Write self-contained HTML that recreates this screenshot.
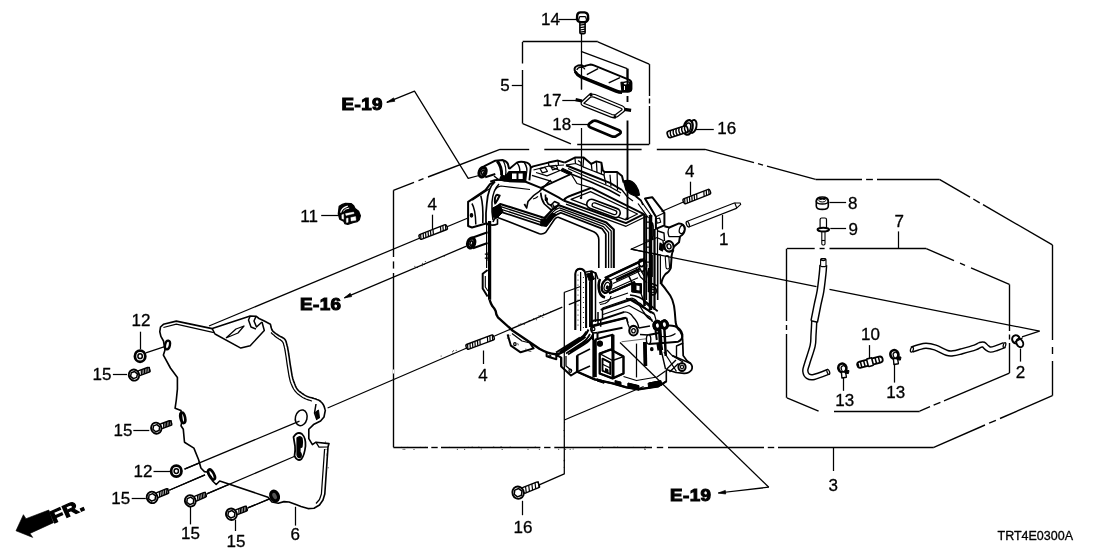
<!DOCTYPE html>
<html><head><meta charset="utf-8"><title>TRT4E0300A</title>
<style>
html,body{margin:0;padding:0;background:#fff;}
svg{display:block;will-change:transform;}
text{font-family:"Liberation Sans",Arial,sans-serif;fill:#000;stroke:#000;stroke-width:0.3px;}
.b{font-weight:bold;stroke:#000;stroke-width:1.1px;letter-spacing:0.45px;stroke-linejoin:miter;}
</style></head><body>
<svg width="1108" height="554" viewBox="0 0 1108 554" fill="none" stroke="#000" stroke-linecap="butt" stroke-linejoin="round">
<rect x="0" y="0" width="1108" height="554" fill="#fff" stroke="none"/>
<line x1="393.5" y1="447.3" x2="393.5" y2="273.0" stroke-width="1.38" />
<line x1="393.5" y1="268.6" x2="393.5" y2="261.4" stroke-width="1.38" />
<line x1="393.5" y1="257.0" x2="393.5" y2="190.3" stroke-width="1.38" />
<line x1="393.5" y1="369.5" x2="393.5" y2="373.5" stroke-width="1.38" stroke="#fff"/>
<line x1="393.4" y1="190.3" x2="414.0" y2="182.4" stroke-width="1.38" />
<line x1="418.5" y1="180.6" x2="423.5" y2="178.7" stroke-width="1.38" />
<line x1="428.0" y1="177.0" x2="500.0" y2="149.3" stroke-width="1.38" />
<line x1="500.0" y1="149.5" x2="529.2" y2="149.5" stroke-width="1.38" />
<line x1="544.3" y1="149.5" x2="641.6" y2="149.5" stroke-width="1.38" />
<line x1="656.8" y1="149.5" x2="705.0" y2="149.5" stroke-width="1.38" />
<line x1="705.0" y1="149.3" x2="754.0" y2="162.6" stroke-width="1.38" />
<line x1="758.0" y1="163.7" x2="763.0" y2="165.1" stroke-width="1.38" />
<line x1="767.0" y1="166.2" x2="815.6" y2="179.4" stroke-width="1.38" />
<line x1="815.6" y1="179.5" x2="862.0" y2="179.5" stroke-width="1.38" />
<line x1="866.1" y1="179.5" x2="872.9" y2="179.5" stroke-width="1.38" />
<line x1="877.0" y1="179.5" x2="939.4" y2="179.5" stroke-width="1.38" />
<line x1="939.4" y1="179.4" x2="970.0" y2="197.1" stroke-width="1.38" />
<line x1="973.3" y1="199.0" x2="979.7" y2="202.8" stroke-width="1.38" />
<line x1="983.0" y1="204.7" x2="1052.4" y2="244.9" stroke-width="1.38" />
<line x1="1052.5" y1="244.9" x2="1052.5" y2="340.0" stroke-width="1.38" />
<line x1="1052.5" y1="347.0" x2="1052.5" y2="354.0" stroke-width="1.38" />
<line x1="1052.5" y1="361.0" x2="1052.5" y2="395.7" stroke-width="1.38" />
<line x1="1052.4" y1="395.7" x2="1000.0" y2="418.5" stroke-width="1.38" />
<line x1="995.9" y1="420.3" x2="989.1" y2="423.2" stroke-width="1.38" />
<line x1="985.0" y1="425.0" x2="933.8" y2="447.3" stroke-width="1.38" />
<line x1="933.8" y1="447.5" x2="778.0" y2="447.5" stroke-width="1.38" />
<line x1="774.2" y1="447.5" x2="767.8" y2="447.5" stroke-width="1.38" />
<line x1="764.0" y1="447.5" x2="668.0" y2="447.5" stroke-width="1.38" />
<line x1="663.2" y1="447.5" x2="656.8" y2="447.5" stroke-width="1.38" />
<line x1="652.0" y1="447.5" x2="554.3" y2="447.5" stroke-width="1.38" />
<line x1="550.5" y1="447.5" x2="544.1" y2="447.5" stroke-width="1.38" />
<line x1="540.4" y1="447.5" x2="441.0" y2="447.5" stroke-width="1.38" />
<line x1="437.7" y1="447.5" x2="431.3" y2="447.5" stroke-width="1.38" />
<line x1="428.0" y1="447.5" x2="393.4" y2="447.5" stroke-width="1.38" />
<line x1="570.9" y1="143.9" x2="522.7" y2="123.6" stroke-width="1.38" />
<line x1="522.5" y1="123.6" x2="522.5" y2="70.0" stroke-width="1.38" />
<line x1="522.5" y1="63.5" x2="522.5" y2="41.9" stroke-width="1.38" />
<line x1="522.7" y1="41.5" x2="597.8" y2="41.5" stroke-width="1.38" />
<line x1="597.8" y1="41.9" x2="649.2" y2="64.1" stroke-width="1.38" />
<line x1="649.5" y1="64.1" x2="649.5" y2="96.0" stroke-width="1.38" />
<line x1="649.5" y1="98.5" x2="649.5" y2="103.5" stroke-width="1.38" />
<line x1="649.5" y1="106.0" x2="649.5" y2="144.3" stroke-width="1.38" />
<line x1="649.2" y1="144.5" x2="577.2" y2="144.5" stroke-width="1.38" />
<line x1="786.9" y1="248.5" x2="814.7" y2="248.5" stroke-width="1.38" />
<line x1="819.6" y1="248.5" x2="824.6" y2="248.5" stroke-width="1.38" />
<line x1="829.5" y1="248.5" x2="926.3" y2="248.5" stroke-width="1.38" />
<line x1="926.3" y1="248.7" x2="954.0" y2="260.6" stroke-width="1.38" />
<line x1="960.0" y1="263.2" x2="965.0" y2="265.3" stroke-width="1.38" />
<line x1="971.0" y1="267.9" x2="1009.4" y2="284.4" stroke-width="1.38" />
<line x1="1009.5" y1="284.4" x2="1009.5" y2="331.0" stroke-width="1.38" />
<line x1="1009.5" y1="334.5" x2="1009.5" y2="339.5" stroke-width="1.38" />
<line x1="1009.5" y1="343.0" x2="1009.5" y2="373.1" stroke-width="1.38" />
<line x1="1009.4" y1="373.1" x2="944.0" y2="400.8" stroke-width="1.38" />
<line x1="940.4" y1="402.3" x2="933.6" y2="405.2" stroke-width="1.38" />
<line x1="930.0" y1="406.7" x2="919.7" y2="411.1" stroke-width="1.38" />
<line x1="919.7" y1="411.5" x2="834.0" y2="411.5" stroke-width="1.38" />
<line x1="818.6" y1="411.1" x2="786.9" y2="397.8" stroke-width="1.38" />
<line x1="786.5" y1="397.8" x2="786.5" y2="334.0" stroke-width="1.38" />
<line x1="786.5" y1="330.0" x2="786.5" y2="325.0" stroke-width="1.38" />
<line x1="786.5" y1="321.0" x2="786.5" y2="248.7" stroke-width="1.38" />
<polyline points="386.8,102.3 414.5,91.1 468.2,178.3 479,175.5" stroke-width="1.25" fill="none" />
<path d="M386.8,102.3 l6.8,-4.4 l1.2,3.4 z" stroke-width="0.75" fill="#000" />
<line x1="209" y1="326" x2="470.4" y2="217" stroke-width="1.25" />
<line x1="344.4" y1="297.8" x2="466.5" y2="246.2" stroke-width="1.25" />
<path d="M344.4,297.8 l5.8,-4.6 l1.4,3.4 z" stroke-width="0.75" fill="#000" />
<line x1="327.6" y1="408" x2="494.6" y2="336" stroke-width="1.25" />
<line x1="184.5" y1="469.2" x2="299.5" y2="421.1" stroke-width="1.25" />
<line x1="169.2" y1="490.3" x2="205" y2="474.9" stroke-width="1.25" />
<line x1="206.8" y1="493.9" x2="294.8" y2="456.3" stroke-width="1.25" />
<line x1="247.8" y1="507.9" x2="270.1" y2="498.6" stroke-width="1.25" />
<line x1="145.8" y1="352.8" x2="166.9" y2="345.8" stroke-width="1.25" />
<polyline points="1039.6,331.1 1022,336.9" stroke-width="1.25" fill="none" />
<line x1="661.5" y1="211.5" x2="683.4" y2="202" stroke-width="1.25" />
<polyline points="718.3,493 768.8,487.2" stroke-width="1.25" fill="none" />
<path d="M718.3,493 l7,-2.6 l0.4,3.6 z" stroke-width="0.75" fill="#000" />
<line x1="581.5" y1="33" x2="581.5" y2="89.5" stroke-width="1.25" />
<polyline points="581,51.4 627.2,68.7" stroke-width="1.25" fill="none" />
<line x1="627.5" y1="68.7" x2="627.5" y2="92" stroke-width="1.88" />
<text x="541" y="25.4" font-size="17" text-anchor="start" >14</text>
<line x1="558.5" y1="19.5" x2="576.7" y2="19.5" stroke-width="1.25" />
<text x="500.3" y="91" font-size="17" text-anchor="start" >5</text>
<line x1="511.8" y1="85.5" x2="522.7" y2="85.5" stroke-width="1.25" />
<text x="542.5" y="106" font-size="17" text-anchor="start" >17</text>
<line x1="562.3" y1="100.5" x2="578" y2="100.5" stroke-width="1.25" />
<text x="552.2" y="130" font-size="17" text-anchor="start" >18</text>
<line x1="571.8" y1="124.5" x2="588.3" y2="124.5" stroke-width="1.25" />
<text x="717.3" y="134.4" font-size="17" text-anchor="start" >16</text>
<line x1="695" y1="129.5" x2="713.8" y2="129.5" stroke-width="1.25" />
<text x="685" y="176.8" font-size="17" text-anchor="start" >4</text>
<line x1="690.5" y1="181.7" x2="690.5" y2="195.6" stroke-width="1.25" />
<text x="427.5" y="210.4" font-size="17" text-anchor="start" >4</text>
<line x1="432.5" y1="214.7" x2="432.5" y2="229.3" stroke-width="1.25" />
<text x="478.2" y="380.8" font-size="17" text-anchor="start" >4</text>
<line x1="483.5" y1="350.5" x2="483.5" y2="364" stroke-width="1.25" />
<text x="719" y="245.3" font-size="17" text-anchor="start" >1</text>
<line x1="722.5" y1="215" x2="722.5" y2="229.4" stroke-width="1.25" />
<text x="300.2" y="221.8" font-size="17" text-anchor="start" >11</text>
<line x1="321.2" y1="215.5" x2="338.5" y2="215.5" stroke-width="1.25" />
<text x="848" y="208.6" font-size="17" text-anchor="start" >8</text>
<line x1="829.4" y1="202.5" x2="846.1" y2="202.5" stroke-width="1.25" />
<text x="848.4" y="234.6" font-size="17" text-anchor="start" >9</text>
<line x1="830.3" y1="228.5" x2="846.1" y2="228.5" stroke-width="1.25" />
<text x="894.5" y="226.6" font-size="17" text-anchor="start" >7</text>
<line x1="898.5" y1="231.4" x2="898.5" y2="248.9" stroke-width="1.25" />
<text x="861" y="340.4" font-size="17" text-anchor="start" >10</text>
<line x1="869.5" y1="345.1" x2="869.5" y2="365" stroke-width="1.25" />
<text x="835.3" y="406.1" font-size="17" text-anchor="start" >13</text>
<line x1="843.5" y1="376.8" x2="843.5" y2="390.8" stroke-width="1.25" />
<text x="886.3" y="398.3" font-size="17" text-anchor="start" >13</text>
<line x1="894.5" y1="362.7" x2="894.5" y2="382.6" stroke-width="1.25" />
<text x="1015.8" y="378" font-size="17" text-anchor="start" >2</text>
<line x1="1020.5" y1="348.7" x2="1020.5" y2="361.6" stroke-width="1.25" />
<text x="828.5" y="490.5" font-size="17" text-anchor="start" >3</text>
<line x1="833.5" y1="447.3" x2="833.5" y2="471" stroke-width="1.25" />
<text x="513.6" y="532.5" font-size="17" text-anchor="start" >16</text>
<line x1="522.5" y1="500.8" x2="522.5" y2="515.2" stroke-width="1.25" />
<text x="131.6" y="326.3" font-size="17" text-anchor="start" >12</text>
<line x1="140.5" y1="331.7" x2="140.5" y2="349.3" stroke-width="1.25" />
<text x="92.5" y="379.8" font-size="17" text-anchor="start" >15</text>
<line x1="112.9" y1="374.5" x2="127" y2="374.5" stroke-width="1.25" />
<text x="113.6" y="435.7" font-size="17" text-anchor="start" >15</text>
<line x1="133.3" y1="430.5" x2="149.3" y2="430.5" stroke-width="1.25" />
<text x="133.5" y="477" font-size="17" text-anchor="start" >12</text>
<line x1="153.5" y1="471.5" x2="170" y2="471.5" stroke-width="1.25" />
<text x="111.2" y="504.4" font-size="17" text-anchor="start" >15</text>
<line x1="131.7" y1="498.5" x2="145.8" y2="498.5" stroke-width="1.25" />
<text x="181" y="538.8" font-size="17" text-anchor="start" >15</text>
<line x1="190.5" y1="506.8" x2="190.5" y2="524.4" stroke-width="1.25" />
<text x="226.5" y="546.5" font-size="17" text-anchor="start" >15</text>
<line x1="235.5" y1="519.7" x2="235.5" y2="531" stroke-width="1.25" />
<text x="290.5" y="540" font-size="17" text-anchor="start" >6</text>
<line x1="295.5" y1="506.8" x2="295.5" y2="525.6" stroke-width="1.25" />
<text font-size="17.2" class="b" transform="translate(341.5 110.2) scale(1.09,0.98)">E-19</text>
<text font-size="17.2" class="b" transform="translate(300 309.5) scale(1.09,0.98)">E-16</text>
<text font-size="17.2" class="b" transform="translate(670 500.9) scale(1.09,0.98)">E-19</text>
<text x="997.5" y="539.8" font-size="12.5" text-anchor="start" >TRT4E0300A</text>
<path d="M16,530.8 L23.4,514.7 L26,518.7 L48.8,510 L53.4,522.7 L30,533.4 L32.7,537.4 Z" stroke-width="0.62" fill="#000" />
<text x="0" y="0" font-size="17" class="b" transform="translate(53.6,523.4) rotate(-23.6) scale(1.23,1.03)" style="stroke-width:1.2px">FR.</text>
<rect x="579.9" y="21" width="5.2" height="12.6" rx="1.2" fill="#fff" stroke-width="1.6"/>
<path d="M579.9,25.2 L585.1,24.4" stroke-width="1.2"/>
<path d="M579.9,27.6 L585.1,26.8" stroke-width="1.2"/>
<path d="M579.9,30.0 L585.1,29.2" stroke-width="1.2"/>
<path d="M579.9,32.2 L585.1,31.400000000000002" stroke-width="1.2"/>
<path d="M577.2,15.2 Q577.6,12.6 580.5,12.4 L584.6,12.4 Q587.6,12.8 588,15.4 L588.2,19 Q587.6,21.8 584.5,22.2 L580.5,22.2 Q577.4,21.6 577,18.8 Z" stroke-width="2.38" fill="#fff" />
<path d="M579.6,16.6 L585.6,16.6 M579.6,16.6 L578.6,20 M585.6,16.6 L586.6,20" stroke-width="1.25" fill="none" />
<ellipse cx="693.0" cy="126.4" rx="3.4" ry="6.6" stroke-width="2.0" fill="#fff" transform="rotate(12 693.0 126.4)"/>
<ellipse cx="688.2" cy="127.4" rx="4.4" ry="7.4" stroke-width="2.25" fill="#fff" transform="rotate(12 688.2 127.4)"/>
<ellipse cx="688.0" cy="127.6" rx="2.6" ry="4.6" stroke-width="1.5" fill="none" transform="rotate(12 688.0 127.6)"/>
<g transform="translate(667.6 135.0) rotate(-18)">
<rect x="0" y="-3.4" width="21" height="6.8" rx="2.4" fill="#fff" stroke-width="1.7"/>
<path d="M4.2,-3.4 Q2.0,0 3.4,3.4" stroke-width="1.3"/>
<path d="M7.2,-3.4 Q5.0,0 6.4,3.4" stroke-width="1.3"/>
<path d="M10.2,-3.4 Q8.0,0 9.4,3.4" stroke-width="1.3"/>
<path d="M13.2,-3.4 Q11.0,0 12.4,3.4" stroke-width="1.3"/>
<path d="M16.2,-3.4 Q14.0,0 15.4,3.4" stroke-width="1.3"/>
<path d="M19.2,-3.4 Q17.0,0 18.4,3.4" stroke-width="1.3"/>
</g>
<g transform="translate(518.1 492.7) rotate(-21.7)">
<rect x="5.2" y="-3.0" width="17.2" height="6" rx="1.4" fill="#fff" stroke-width="1.4"/>
<line x1="9.2" y1="-3.0" x2="7.6" y2="3.0" stroke-width="1.2"/>
<line x1="12.6" y1="-3.0" x2="11.0" y2="3.0" stroke-width="1.2"/>
<line x1="16.0" y1="-3.0" x2="14.4" y2="3.0" stroke-width="1.2"/>
<line x1="19.4" y1="-3.0" x2="17.8" y2="3.0" stroke-width="1.2"/>
<line x1="22.9" y1="-3.0" x2="21.3" y2="3.0" stroke-width="1.2"/>
<ellipse cx="0" cy="0" rx="5.70" ry="6.2" fill="#fff" stroke-width="1.9"/>
<polygon points="4.20,0.00 2.10,3.64 -2.10,3.64 -4.20,0.00 -2.10,-3.64 2.10,-3.64" fill="none" stroke-width="1.5"/>
</g>
<g transform="translate(134 375.1) rotate(-20.0)">
<rect x="4.6" y="-2.5" width="12.1" height="5.0" rx="1.4" fill="#fff" stroke-width="1.4"/>
<line x1="8.6" y1="-2.5" x2="7.0" y2="2.5" stroke-width="1.2"/>
<line x1="10.3" y1="-2.5" x2="8.7" y2="2.5" stroke-width="1.2"/>
<line x1="12.0" y1="-2.5" x2="10.4" y2="2.5" stroke-width="1.2"/>
<line x1="13.7" y1="-2.5" x2="12.1" y2="2.5" stroke-width="1.2"/>
<line x1="15.5" y1="-2.5" x2="13.9" y2="2.5" stroke-width="1.2"/>
<line x1="17.2" y1="-2.5" x2="15.6" y2="2.5" stroke-width="1.2"/>
<ellipse cx="0" cy="0" rx="5.15" ry="5.6" fill="#fff" stroke-width="1.9"/>
<polygon points="3.60,0.00 1.80,3.12 -1.80,3.12 -3.60,0.00 -1.80,-3.12 1.80,-3.12" fill="none" stroke-width="1.5"/>
</g>
<g transform="translate(156.3 428.2) rotate(-20.3)">
<rect x="4.6" y="-2.5" width="11.5" height="5.0" rx="1.4" fill="#fff" stroke-width="1.4"/>
<line x1="8.6" y1="-2.5" x2="7.0" y2="2.5" stroke-width="1.2"/>
<line x1="10.2" y1="-2.5" x2="8.6" y2="2.5" stroke-width="1.2"/>
<line x1="11.8" y1="-2.5" x2="10.2" y2="2.5" stroke-width="1.2"/>
<line x1="13.4" y1="-2.5" x2="11.8" y2="2.5" stroke-width="1.2"/>
<line x1="15.0" y1="-2.5" x2="13.4" y2="2.5" stroke-width="1.2"/>
<line x1="16.6" y1="-2.5" x2="15.0" y2="2.5" stroke-width="1.2"/>
<ellipse cx="0" cy="0" rx="5.15" ry="5.6" fill="#fff" stroke-width="1.9"/>
<polygon points="3.60,0.00 1.80,3.12 -1.80,3.12 -3.60,0.00 -1.80,-3.12 1.80,-3.12" fill="none" stroke-width="1.5"/>
</g>
<g transform="translate(152.1 497.4) rotate(-22.6)">
<rect x="4.8" y="-2.5" width="12.7" height="5.0" rx="1.4" fill="#fff" stroke-width="1.4"/>
<line x1="8.8" y1="-2.5" x2="7.2" y2="2.5" stroke-width="1.2"/>
<line x1="10.6" y1="-2.5" x2="9.0" y2="2.5" stroke-width="1.2"/>
<line x1="12.5" y1="-2.5" x2="10.9" y2="2.5" stroke-width="1.2"/>
<line x1="14.3" y1="-2.5" x2="12.7" y2="2.5" stroke-width="1.2"/>
<line x1="16.2" y1="-2.5" x2="14.6" y2="2.5" stroke-width="1.2"/>
<line x1="18.0" y1="-2.5" x2="16.4" y2="2.5" stroke-width="1.2"/>
<ellipse cx="0" cy="0" rx="5.34" ry="5.8" fill="#fff" stroke-width="1.9"/>
<polygon points="3.80,0.00 1.90,3.29 -1.90,3.29 -3.80,0.00 -1.90,-3.29 1.90,-3.29" fill="none" stroke-width="1.5"/>
</g>
<g transform="translate(190.3 500.9) rotate(-23.0)">
<rect x="4.8" y="-2.5" width="12.1" height="5.0" rx="1.4" fill="#fff" stroke-width="1.4"/>
<line x1="8.8" y1="-2.5" x2="7.2" y2="2.5" stroke-width="1.2"/>
<line x1="10.5" y1="-2.5" x2="8.9" y2="2.5" stroke-width="1.2"/>
<line x1="12.3" y1="-2.5" x2="10.7" y2="2.5" stroke-width="1.2"/>
<line x1="14.0" y1="-2.5" x2="12.4" y2="2.5" stroke-width="1.2"/>
<line x1="15.7" y1="-2.5" x2="14.1" y2="2.5" stroke-width="1.2"/>
<line x1="17.4" y1="-2.5" x2="15.8" y2="2.5" stroke-width="1.2"/>
<ellipse cx="0" cy="0" rx="5.34" ry="5.8" fill="#fff" stroke-width="1.9"/>
<polygon points="3.80,0.00 1.90,3.29 -1.90,3.29 -3.80,0.00 -1.90,-3.29 1.90,-3.29" fill="none" stroke-width="1.5"/>
</g>
<g transform="translate(231.4 514.3) rotate(-21.4)">
<rect x="4.8" y="-2.5" width="11.8" height="5.0" rx="1.4" fill="#fff" stroke-width="1.4"/>
<line x1="8.8" y1="-2.5" x2="7.2" y2="2.5" stroke-width="1.2"/>
<line x1="10.5" y1="-2.5" x2="8.9" y2="2.5" stroke-width="1.2"/>
<line x1="12.1" y1="-2.5" x2="10.5" y2="2.5" stroke-width="1.2"/>
<line x1="13.8" y1="-2.5" x2="12.2" y2="2.5" stroke-width="1.2"/>
<line x1="15.5" y1="-2.5" x2="13.9" y2="2.5" stroke-width="1.2"/>
<line x1="17.1" y1="-2.5" x2="15.5" y2="2.5" stroke-width="1.2"/>
<ellipse cx="0" cy="0" rx="5.34" ry="5.8" fill="#fff" stroke-width="1.9"/>
<polygon points="3.80,0.00 1.90,3.29 -1.90,3.29 -3.80,0.00 -1.90,-3.29 1.90,-3.29" fill="none" stroke-width="1.5"/>
</g>
<ellipse cx="140.1" cy="356.2" rx="5.2" ry="5.6" stroke-width="2.75" fill="#fff" transform="rotate(0 140.1 356.2)"/>
<ellipse cx="140.1" cy="356.2" rx="2.2" ry="2.4" stroke-width="1.5" fill="none" transform="rotate(0 140.1 356.2)"/>
<ellipse cx="176.3" cy="471.1" rx="5.2" ry="5.6" stroke-width="2.75" fill="#fff" transform="rotate(0 176.3 471.1)"/>
<ellipse cx="176.3" cy="471.1" rx="2.2" ry="2.4" stroke-width="1.5" fill="none" transform="rotate(0 176.3 471.1)"/>
<g transform="translate(419.4 237.4) rotate(-21.2)">
<rect x="0" y="-2.6" width="29.6" height="5.2" rx="1.8" fill="#fff" stroke-width="1.4"/>
<line x1="2.3" y1="-2.6" x2="0.7" y2="2.6" stroke-width="1.2"/>
<line x1="5.0" y1="-2.6" x2="3.4" y2="2.6" stroke-width="1.2"/>
<line x1="7.6" y1="-2.6" x2="6.0" y2="2.6" stroke-width="1.2"/>
<line x1="10.3" y1="-2.6" x2="8.7" y2="2.6" stroke-width="1.2"/>
<line x1="12.9" y1="-2.6" x2="11.3" y2="2.6" stroke-width="1.2"/>
<line x1="15.6" y1="-2.6" x2="14.0" y2="2.6" stroke-width="1.2"/>
<line x1="23.6" y1="-2.6" x2="22.0" y2="2.6" stroke-width="1.2"/>
<line x1="26.2" y1="-2.6" x2="24.6" y2="2.6" stroke-width="1.2"/>
<line x1="28.9" y1="-2.6" x2="27.3" y2="2.6" stroke-width="1.2"/>
</g>
<g transform="translate(683.4 201.8) rotate(-21.4)">
<rect x="0" y="-2.6" width="28.8" height="5.2" rx="1.8" fill="#fff" stroke-width="1.4"/>
<line x1="2.3" y1="-2.6" x2="0.7" y2="2.6" stroke-width="1.2"/>
<line x1="4.9" y1="-2.6" x2="3.3" y2="2.6" stroke-width="1.2"/>
<line x1="7.5" y1="-2.6" x2="5.9" y2="2.6" stroke-width="1.2"/>
<line x1="10.0" y1="-2.6" x2="8.4" y2="2.6" stroke-width="1.2"/>
<line x1="12.6" y1="-2.6" x2="11.0" y2="2.6" stroke-width="1.2"/>
<line x1="15.2" y1="-2.6" x2="13.6" y2="2.6" stroke-width="1.2"/>
<line x1="22.9" y1="-2.6" x2="21.3" y2="2.6" stroke-width="1.2"/>
<line x1="25.5" y1="-2.6" x2="23.9" y2="2.6" stroke-width="1.2"/>
<line x1="28.1" y1="-2.6" x2="26.5" y2="2.6" stroke-width="1.2"/>
</g>
<g transform="translate(466.3 347.3) rotate(-20.5)">
<rect x="0" y="-2.6" width="29.5" height="5.2" rx="1.8" fill="#fff" stroke-width="1.4"/>
<line x1="2.3" y1="-2.6" x2="0.7" y2="2.6" stroke-width="1.2"/>
<line x1="4.9" y1="-2.6" x2="3.3" y2="2.6" stroke-width="1.2"/>
<line x1="7.6" y1="-2.6" x2="6.0" y2="2.6" stroke-width="1.2"/>
<line x1="10.2" y1="-2.6" x2="8.6" y2="2.6" stroke-width="1.2"/>
<line x1="12.9" y1="-2.6" x2="11.3" y2="2.6" stroke-width="1.2"/>
<line x1="15.5" y1="-2.6" x2="13.9" y2="2.6" stroke-width="1.2"/>
<line x1="23.5" y1="-2.6" x2="21.9" y2="2.6" stroke-width="1.2"/>
<line x1="26.1" y1="-2.6" x2="24.5" y2="2.6" stroke-width="1.2"/>
<line x1="28.8" y1="-2.6" x2="27.2" y2="2.6" stroke-width="1.2"/>
</g>
<polygon points="159.8,331.7 160.5,327 163.4,324.3 176.3,321.1 212.2,328.6 250.2,316 256,316.2 259,318.5 264.3,321.1 270.4,324.2 270.6,324.9 270.8,325.9 271.0,327.1 271.4,328.3 271.8,329.5 272.4,330.5 273.1,331.4 274.0,332.1 274.9,332.9 275.9,333.6 277.0,334.3 278.0,335.0 279.1,335.7 280.3,336.4 281.6,337.0 282.8,337.7 283.9,338.4 284.8,339.3 285.5,340.3 286.0,341.3 286.3,342.5 286.6,343.6 286.9,344.8 287.2,346.0 287.5,347.0 287.7,347.9 287.8,348.8 288.0,349.9 288.3,351.4 288.6,353.5 289.1,356.5 289.6,360.2 290.2,364.3 290.9,368.4 291.5,372.2 292.0,375.2 292.5,377.4 292.9,379.0 293.3,380.3 293.7,381.4 294.1,382.4 294.5,383.5 295.0,384.7 295.4,385.8 295.9,386.8 296.4,387.8 296.9,388.7 297.6,389.6 298.4,390.5 299.2,391.3 300.2,392.0 301.1,392.7 302.1,393.4 303.0,394.0 303.9,394.6 304.7,395.1 305.6,395.6 306.4,396.0 307.3,396.4 308.3,396.8 309.4,397.2 310.5,397.5 311.7,397.8 312.8,398.1 314.0,398.5 315.0,398.8 315.9,399.1 316.8,399.5 317.7,399.8 318.5,400.1 319.3,400.5 320.0,401.0 320.7,401.5 321.3,402.2 321.9,402.8 322.5,403.5 323.0,404.2 323.5,405.0 323.9,405.9 324.3,406.9 324.6,407.9 324.9,408.9 325.1,409.7 325.3,410.3 324,417 320.6,421.1 313.5,424.6 308.8,429.3 308.8,438.7 312.4,444.6 315.9,442.2 329,443.6 328,447 324.8,494 323,500 319.5,505 314,508.2 308,508.6 301,506.4 295.9,504.4 289,502 284,501.6 278.3,503.2 272,502 268,497.2 222,481.7 219.7,481 216.2,484.5 212.6,481 211,476.5 207,472 204.4,471.6 200.9,468 198.6,459.8 193.9,448.1 184.5,442.2 183.3,429.3 181,425.8 182,421 181,410.6 175.1,408.2 176.3,400 177.4,389.2 177.4,377.4 170.4,368 163.4,355.1 165,350 163.5,341 160.9,336.4" stroke-width="1.62" fill="#fff" />
<line x1="184.5" y1="469.2" x2="299.5" y2="421.1" stroke-width="1.25" />
<line x1="206.8" y1="493.9" x2="294.8" y2="456.3" stroke-width="1.25" />
<line x1="247.8" y1="507.9" x2="270.1" y2="498.6" stroke-width="1.25" />
<line x1="169.2" y1="490.3" x2="205" y2="474.9" stroke-width="1.25" />
<polyline points="163.4,327.5 176.3,324.2 214,332.6" stroke-width="1.25" fill="none" />
<polyline points="212.2,328.6 215,334 240.8,348.1 250.2,345.8 264.3,330.5 262,322" stroke-width="1.5" fill="none" />
<polyline points="226,338 236,329 244,326 238,333 226,338" stroke-width="1.25" fill="none" />
<polyline points="250.2,316 248.5,320 251,327 256,329" stroke-width="1.5" fill="none" />
<polyline points="256,316.2 254,321 256.5,327 262,322" stroke-width="1.5" fill="none" />
<polyline points="271.0,332.5 271.5,333.0 272.2,333.7 273.1,334.5 274.1,335.3 275.0,336.2 276.0,337.0 277.0,337.7 278.2,338.5 279.3,339.2 280.5,339.9 281.5,340.7 282.3,341.5 282.9,342.3 283.3,343.2 283.6,344.1 283.8,345.0 284.1,346.0 284.3,347.0 284.5,347.9 284.7,348.7 284.9,349.5 285.0,350.5 285.3,351.9 285.6,354.0 286.1,357.0 286.6,360.7 287.2,364.9 287.9,369.1 288.5,372.9 289.0,376.0 289.5,378.2 289.9,379.9 290.2,381.2 290.6,382.3 291.0,383.4 291.5,384.5 292.0,385.7 292.5,386.9 293.1,388.0 293.6,389.0 294.3,390.0 295.0,391.0 295.8,391.9 296.7,392.9 297.6,393.7 298.6,394.5 299.6,395.3 300.5,396.0 301.4,396.6 302.3,397.2 303.2,397.7 304.1,398.1 305.1,398.6 306.0,399.0 307.0,399.4 308.2,399.8 309.3,400.2 310.4,400.5 311.3,400.8 312,401" stroke-width="1.25" fill="none" />
<polyline points="324.6,449 321.4,494 319.5,499.5 316,503.5" stroke-width="1.25" fill="none" />
<polyline points="315.9,442.2 319,447.2 328,447" stroke-width="1.25" fill="none" />
<ellipse cx="167.5" cy="345" rx="2.4" ry="4.4" stroke-width="2.38" fill="none" transform="rotate(12 167.5 345)"/>
<ellipse cx="182.8" cy="417.8" rx="2.3" ry="5.4" stroke-width="2.62" fill="none" transform="rotate(-12 182.8 417.8)"/>
<ellipse cx="211.5" cy="474.5" rx="2.4" ry="5.6" stroke-width="2.62" fill="none" transform="rotate(-28 211.5 474.5)"/>
<ellipse cx="301.2" cy="417.8" rx="5.8" ry="8.0" stroke-width="1.5" fill="none" transform="rotate(14 301.2 417.8)"/>
<path d="M293.5,437 q4,-6 8.5,-3 q4,4 3.5,12 q-1,9 -4,13 q-4,3 -7,-3 q1,-6 0.5,-10 z" stroke-width="1.75" fill="#fff" />
<path d="M297,438 q3,-3 5,0 q1,4 0,9 l-2,1 l0,4 q2,2 1,5 q-3,2 -4,-2 z" stroke-width="1.25" fill="#000" />
<ellipse cx="274.6" cy="496.0" rx="3.6" ry="5.0" stroke-width="3.25" fill="#555" transform="rotate(-25 274.6 496.0)"/>
<polyline points="316,404 314.5,413 317,420" stroke-width="1.5" fill="none" />
<path d="M315.5,412 l3,-2 l1,8 l-3,1 z" stroke-width="1.0" fill="#000" />
<path d="M814.3,320 C814.2,322.5 813.8,330.7 813.5,335.0 C813.2,339.3 813.7,341.2 812.6,346.0 C811.5,350.8 808.2,359.8 807.0,364.0 C805.8,368.2 805.1,368.9 805.3,371.0 C805.5,373.1 806.5,375.3 808.0,376.3 C809.5,377.3 810.6,377.8 814.0,377.0 C817.4,376.2 826.1,372.7 828.5,371.8" stroke="#000" stroke-width="6.5" fill="none" stroke-linecap="butt"/>
<path d="M814.3,320 C814.2,322.5 813.8,330.7 813.5,335.0 C813.2,339.3 813.7,341.2 812.6,346.0 C811.5,350.8 808.2,359.8 807.0,364.0 C805.8,368.2 805.1,368.9 805.3,371.0 C805.5,373.1 806.5,375.3 808.0,376.3 C809.5,377.3 810.6,377.8 814.0,377.0 C817.4,376.2 826.1,372.7 828.5,371.8" stroke="#fff" stroke-width="3.6" fill="none" stroke-linecap="butt"/>
<ellipse cx="828.3" cy="371.9" rx="1.2" ry="2.6" stroke-width="1.25" fill="#fff" transform="rotate(-20 828.3 371.9)"/>
<path d="M823.3,265 C823.2,266.7 823.0,270.7 822.5,275.0 C822.0,279.3 821.3,286.0 820.5,291.0 C819.7,296.0 818.5,299.9 817.5,305.0 C816.5,310.1 814.8,318.8 814.2,321.5" stroke="#000" stroke-width="8.1" fill="none" stroke-linecap="butt"/>
<path d="M823.3,265 C823.2,266.7 823.0,270.7 822.5,275.0 C822.0,279.3 821.3,286.0 820.5,291.0 C819.7,296.0 818.5,299.9 817.5,305.0 C816.5,310.1 814.8,318.8 814.2,321.5" stroke="#fff" stroke-width="5.199999999999999" fill="none" stroke-linecap="butt"/>
<line x1="811" y1="320.8" x2="817.6" y2="322.2" stroke-width="1.5" />
<rect x="820.6" y="258.6" width="5.4" height="8" rx="1.2" fill="#fff" stroke-width="1.1"/>
<ellipse cx="823.3" cy="259.6" rx="2.4" ry="1.0" stroke-width="1.12" fill="none" transform="rotate(0 823.3 259.6)"/>
<path d="M911.7,349.6 C912.8,349.2 915.6,348.1 918.0,347.5 C920.4,346.9 923.1,345.8 926.0,345.8 C928.9,345.8 931.7,346.3 935.2,347.5 C938.7,348.7 943.9,351.9 946.9,352.9 C949.9,353.9 950.6,353.5 953.0,353.3 C955.4,353.1 957.3,352.5 961.0,351.5 C964.7,350.5 971.8,348.6 975.0,347.5 C978.2,346.4 978.6,345.5 980.0,345.0 C981.4,344.5 982.3,344.1 983.5,344.6 C984.7,345.1 985.8,347.0 987.0,347.8 C988.2,348.6 989.0,349.5 990.5,349.6 C992.0,349.7 993.6,349.1 996.0,348.3 C998.4,347.5 1003.2,345.6 1004.6,345.0" stroke="#000" stroke-width="6.5" fill="none" stroke-linecap="butt"/>
<path d="M911.7,349.6 C912.8,349.2 915.6,348.1 918.0,347.5 C920.4,346.9 923.1,345.8 926.0,345.8 C928.9,345.8 931.7,346.3 935.2,347.5 C938.7,348.7 943.9,351.9 946.9,352.9 C949.9,353.9 950.6,353.5 953.0,353.3 C955.4,353.1 957.3,352.5 961.0,351.5 C964.7,350.5 971.8,348.6 975.0,347.5 C978.2,346.4 978.6,345.5 980.0,345.0 C981.4,344.5 982.3,344.1 983.5,344.6 C984.7,345.1 985.8,347.0 987.0,347.8 C988.2,348.6 989.0,349.5 990.5,349.6 C992.0,349.7 993.6,349.1 996.0,348.3 C998.4,347.5 1003.2,345.6 1004.6,345.0" stroke="#fff" stroke-width="3.6" fill="none" stroke-linecap="butt"/>
<ellipse cx="911.9" cy="349.6" rx="1.4" ry="2.6" stroke-width="1.25" fill="#fff" transform="rotate(15 911.9 349.6)"/>
<ellipse cx="1004.5" cy="345.1" rx="1.2" ry="2.5" stroke-width="1.25" fill="#fff" transform="rotate(15 1004.5 345.1)"/>
<g transform="translate(870,362.2) rotate(-14.5)">
<rect x="-13" y="-3.1" width="26" height="6.2" rx="3" fill="#fff" stroke-width="1.8"/>
<rect x="-2.6" y="-3.9" width="5.2" height="7.8" rx="0.8" fill="#fff" stroke-width="1.6"/>
<path d="M-9.2,-3.1 L-9.2,3.1" stroke-width="1.5"/>
<path d="M-5.8,-3.1 L-5.8,3.1" stroke-width="1.5"/>
<path d="M6.0,-3.1 L6.0,3.1" stroke-width="1.5"/>
<path d="M9.4,-3.1 L9.4,3.1" stroke-width="1.5"/>
<path d="M-12.4,-1.6 L-12.4,1.6" stroke-width="2.2"/>
</g>
<g transform="translate(842.9 370.0) scale(1.0)">
<ellipse cx="-0.5" cy="-2" rx="4.0" ry="4.4" stroke-width="2.62" fill="#fff" transform="rotate(-20 -0.5 -2)"/>
<ellipse cx="0.8" cy="-1.2" rx="2.4" ry="3.2" stroke-width="1.25" fill="none" transform="rotate(-20 0.8 -1.2)"/>
<path d="M-1.5,2 l0.5,6 l4.5,-0.8 l-0.8,-5.2 z" stroke-width="1.38" fill="#fff" />
<path d="M2.5,0 l3.6,0.6 l-0.6,3 l-3.4,-0.4 z" stroke-width="1.0" fill="#000" />
</g>
<g transform="translate(894.9 356.5) scale(1.0)">
<ellipse cx="-0.5" cy="-2" rx="4.0" ry="4.4" stroke-width="2.62" fill="#fff" transform="rotate(-20 -0.5 -2)"/>
<ellipse cx="0.8" cy="-1.2" rx="2.4" ry="3.2" stroke-width="1.25" fill="none" transform="rotate(-20 0.8 -1.2)"/>
<path d="M-1.5,2 l0.5,6 l4.5,-0.8 l-0.8,-5.2 z" stroke-width="1.38" fill="#fff" />
<path d="M2.5,0 l3.6,0.6 l-0.6,3 l-3.4,-0.4 z" stroke-width="1.0" fill="#000" />
</g>
<g transform="translate(1018.2 341.2)">
<ellipse cx="-2.2" cy="-1.8" rx="3.8" ry="4.2" stroke-width="2.0" fill="#fff" transform="rotate(-15 -2.2 -1.8)"/>
<ellipse cx="1.6" cy="1.8" rx="3.2" ry="4.4" stroke-width="1.88" fill="#fff" transform="rotate(-25 1.6 1.8)"/>
<line x1="-4.5" y1="1.5" x2="4.5" y2="-3.5" stroke-width="1.25" />
</g>
<path d="M816.3,201 q0,-4 6,-4 q6,0 6,4 l0,5 q0,3.4 -6,3.4 q-6,0 -6,-3.4 z" stroke-width="1.62" fill="#fff" />
<ellipse cx="822.3" cy="201.2" rx="6" ry="2.8" stroke-width="1.38" fill="none" transform="rotate(0 822.3 201.2)"/>
<ellipse cx="822.3" cy="200.6" rx="3.4" ry="1.4" stroke-width="1.0" fill="none" transform="rotate(0 822.3 200.6)"/>
<rect x="820.1" y="218" width="6.4" height="11" rx="1.6" fill="#fff" stroke-width="1.2"/>
<rect x="821.8" y="231" width="3.2" height="14" rx="1.2" fill="#fff" stroke-width="1.1"/>
<ellipse cx="823.3" cy="229.6" rx="5.8" ry="1.9" stroke-width="1.88" fill="#fff" transform="rotate(0 823.3 229.6)"/>
<line x1="821.8" y1="240.5" x2="825" y2="240.5" stroke-width="1.12" />
<polygon points="339.2,206.2 342.4,204.4 345.5,203.4 351.0,203.5 353.7,205.8 355.0,208.5 358.6,211.2 360.4,215.7 359.3,219.8 357.3,221.6 353.7,222.5 347.8,224.3 344.8,223.6 343.7,221.1 339.7,219.1 338.3,213.9" stroke-width="1.25" fill="#000" />
<path d="M340.6,212.6 Q341.9,207.6 347.8,206.1" stroke-width="1.25" fill="none" stroke="#fff"/>
<path d="M343.3,211.2 Q345.1,208.5 349.2,208.1" stroke-width="1.0" fill="none" stroke="#fff"/>
<polygon points="341.8,214.8 343.6,214.2 343.7,219.3 341.9,218.7" stroke-width="0.38" fill="#fff" stroke="#fff"/>
<polygon points="345.5,213.6 353.7,212.1 354.1,213.6 346.0,215.5" stroke-width="0.38" fill="#fff" stroke="#fff"/>
<polygon points="346.3,218.4 348.1,218.0 348.1,222.3 346.4,222.5" stroke-width="0.38" fill="#fff" stroke="#fff"/>
<polygon points="350.8,217.5 355.6,216.6 356.0,220.2 351.1,221.1" stroke-width="0.38" fill="#fff" stroke="#fff"/>
<g transform="translate(687.8 224.2) rotate(-21.3)">
<path d="M0,-2.9 L51,-2.9 L56.5,-0.8 L56.5,0.8 L51,2.9 L0,2.9 Z" fill="#fff" stroke-width="1.1"/>
<ellipse cx="0" cy="0" rx="1.3" ry="2.9" stroke-width="1.25" fill="#fff" transform="rotate(0 0 0)"/>
<line x1="51.5" y1="-2.9" x2="51.5" y2="2.9" stroke-width="1.12" />
</g>
<path d="M574.6,70 Q574.2,66.8 577.9,65.6 L581.5,65.2 Q583.5,67.2 586,65.6 L590,64.6 Q592,64.6 594,65.4 L628.2,79.4 Q631.4,80.6 631.4,83 L631.4,89 Q631,91.4 627.5,91.8 L621.7,91.6 Q619,91.4 616,90.2 L581.1,76.2 Q575.4,73.6 574.6,70 Z" stroke-width="2.0" fill="#fff" />
<path d="M575.2,71.6 Q577,75.2 581.1,77.2 L616,91.4 Q619,92.6 622,92.6" stroke-width="3.0" fill="none" />
<path d="M598.1,68.6 L586.8,74.6 M620,77.6 L608.7,82.8" stroke-width="1.38" fill="none" />
<path d="M576.8,70 Q577.6,67.4 581,67.2 Q584.4,67.6 584.8,69.4" stroke-width="1.25" fill="none" />
<path d="M621,82.4 L631.4,82 L631.4,90.6 L622,92 Z" stroke-width="1.25" fill="#000" />
<ellipse cx="626.4" cy="83.4" rx="3.4" ry="1.5" stroke-width="1.25" fill="#fff" transform="rotate(-8 626.4 83.4)"/>
<path d="M624.5,86 l0,4 M627.5,85.6 l0,4" stroke-width="1.0" fill="none" stroke="#fff"/>
<path d="M583,102.2 L589.5,96.2 Q591.5,94.8 594.5,95.8 L621.5,107 Q625,108.8 622.5,111 L616.5,115.6 Q614.5,116.8 611.5,115.8 L584,104.8 Q581.5,103.6 583,102.2 Z" stroke="#000" stroke-width="4.0" fill="none"/>
<path d="M583,102.2 L589.5,96.2 Q591.5,94.8 594.5,95.8 L621.5,107 Q625,108.8 622.5,111 L616.5,115.6 Q614.5,116.8 611.5,115.8 L584,104.8 Q581.5,103.6 583,102.2 Z" stroke="#fff" stroke-width="1.5" fill="none"/>
<path d="M575.6,99.6 l6.4,1.4 M624.5,109.4 l6.6,1" stroke-width="3.25" fill="none" />
<path d="M589.6,95.4 l2.4,-1.4 M613.6,116.6 l2.4,0.6" stroke-width="3.25" fill="none" />
<path d="M589.3,123.6 L593,121 Q595,120.2 597.5,121.2 L619,130.2 Q622,132 619.8,133.8 L616,136.2 Q614,137.2 611.5,136.2 L590,127.2 Q587.5,125.6 589.3,123.6 Z" stroke-width="2.75" fill="none" />
<polygon points="468,202 487,189.5 490,184 484,178 479,172 483,166.5 495,160.5 504,159.5 509,165 512,167.5 520,162 528,163 531,168 545,165 556,160 570,159.5 578,157.3 585,160 594,161.4 600,161.4 602,168 604.5,172 617,172 622,176 626,180 634,183 638,190 641,197 646.3,198.7 661,212 662.6,226 667,225 682,222 686,228 684,234 672,238 674,246 670,252 669,268 664,273 661,284 667.4,291.7 672.3,299.8 675.6,320 677,328 682,333 683,355 690.7,363.6 692.3,368 687.4,374 680,374 670,378 664,388 634,392 609.5,386.3 590,380 578,372 571,375.5 561.2,366 560,359 556,359.2 546,356 545,351.4 535.2,345.7 520.6,352.5 510.9,346 507.6,334.4 512.5,329.5 497.9,317.3 495.7,311.2 492.5,306.3 487.6,296.6 482.7,288.5 482.7,273.8 487.5,268 487.5,224 472,228 467.5,226.5" stroke-width="0.12" fill="#fff" stroke="#fff"/>
<polyline points="494.9,181.7 490,184.1 485.5,190.2 468.1,201.8 468.1,226.0 472,227.5 486,223.5" stroke-width="2.0" fill="none" />
<path d="M471.9,203.5 Q475.5,209 475.8,224.5" stroke-width="1.5" fill="none" />
<polyline points="472.2,200.3 489,189" stroke-width="1.25" fill="none" />
<ellipse cx="471.5" cy="215.3" rx="1.2" ry="1.7" stroke-width="1.25" fill="#000" transform="rotate(0 471.5 215.3)"/>
<path d="M494.9,181.7 Q488,187 486.8,203.6 Q485.5,214 486,222 Q488,226 490.5,224.5" stroke-width="1.75" fill="none" />
<path d="M499,184 Q493,190 492,202 Q491.5,212 493,220" stroke-width="1.5" fill="none" />
<path d="M480.8,195.6 Q483.5,205 482.8,223" stroke-width="1.62" fill="none" />
<path d="M486,223.5 Q492,226.5 497.5,224 L497.5,219" stroke-width="1.62" fill="none" />
<path d="M496,195 q-2.5,4 -1,9 q2,-4 4,-8 z" stroke-width="1.25" fill="none" />
<path d="M483.9,166.4 L495.3,160.7 L502.9,160.1 Q507,161.5 507.9,163.9 L509.2,169 M485.2,177.2 L495.3,174" stroke-width="2.0" fill="none" />
<ellipse cx="482.6" cy="172.1" rx="3.3" ry="4.9" stroke-width="3.25" fill="#fff" transform="rotate(20 482.6 172.1)"/>
<ellipse cx="482.8" cy="172.2" rx="1.2" ry="2.2" stroke-width="1.62" fill="none" transform="rotate(20 482.8 172.2)"/>
<path d="M497.2,161 Q502,167 501.6,175.3" stroke-width="3.0" fill="none" />
<path d="M502.9,160.1 Q507,167 505.5,176" stroke-width="1.25" fill="none" />
<path d="M509.2,169 L516.8,162.6 Q520.5,160.8 526.9,162.6 Q530.5,164 530.7,167.7 L529.4,180.3" stroke-width="1.88" fill="none" />
<path d="M516.8,162.6 Q520.5,167 519.6,172" stroke-width="1.38" fill="none" />
<path d="M524,162 Q528,168 526.5,173" stroke-width="1.38" fill="none" />
<path d="M501.6,175.3 L505.5,176 L509.2,171.5 L525.6,171.5 L526.5,173 L525.6,181.6 L509.2,181.6 L500,178.5 Z" stroke-width="1.25" fill="#000" />
<path d="M512,173.5 l4.5,0 l0,5.5 l-4.5,0 z M518.5,173.5 l4.2,0 l0,5.5 l-4.2,0 z" stroke-width="0.75" fill="#fff" stroke="none"/>
<path d="M494,176 L499,180 L505.5,180.8" stroke-width="1.5" fill="none" />
<path d="M471.5,238 L487.6,232.2 M473,248.3 L487.6,243" stroke-width="2.0" fill="none" />
<ellipse cx="471.2" cy="243" rx="3.4" ry="5.0" stroke-width="3.25" fill="#fff" transform="rotate(20 471.2 243)"/>
<ellipse cx="471.4" cy="243.1" rx="1.3" ry="2.3" stroke-width="1.62" fill="none" transform="rotate(20 471.4 243.1)"/>
<path d="M489.6,221 L489.6,299.8" stroke-width="3.25" fill="none" />
<path d="M489.6,299.8 Q491,304 492.5,306.3 Q495,309 495.7,311.2 Q496,315 497.9,317.3 L512.5,330.5 L539.4,348.8 Q548,353.8 555.6,354.2 Q560,354 563.7,351.5 L585.4,336.7" stroke-width="2.38" fill="none" />
<path d="M486.6,224 L486.6,268" stroke-width="1.25" fill="none" />
<polyline points="487.6,270 482.7,273.8 482.7,288.5 487.6,296.6" stroke-width="2.0" fill="none" />
<polyline points="485.3,276 485.3,287 488,291" stroke-width="1.12" fill="none" />
<path d="M486.8,252 l0,9 M484.8,254 l4,0 M484.8,258 l4,0" stroke-width="1.25" fill="none" />
<polyline points="493.5,209 500.2,204.0 544.4,218.0 555.0,207.0 559.0,205.3 606.4,222.6 613.8,229.5 613.8,268" stroke-width="2.12" fill="none" />
<polyline points="494.2,211.2 500,206.4 543.6,220.4 555.6,209.6 559.6,207.8 605,224.6 611.2,231 611.2,268" stroke-width="1.25" fill="none" />
<polyline points="495,213.4 499.6,208.8 542.8,222.8 556.4,212 560.2,210.2 603.5,226.6 608.6,232.5 608.6,268" stroke-width="1.25" fill="none" />
<polyline points="496,215.6 499.3,211.3 542,225.3 557.2,214.4 560.8,212.7 602,228.6 605.8,234 605.8,268" stroke-width="1.75" fill="none" />
<path d="M492.5,208 L500,204.5 L503,212 L497,218 L493,217 Z" stroke-width="1.0" fill="#000" />
<path d="M541,219 L546,219.5 L552,213 L556,214.5 L546.5,226.5 L540.5,225.5 Z" stroke-width="1.0" fill="#000" />
<path d="M493,222 Q495,216 499,217.9 L539.4,233.7 Q543,234.6 545.7,232.4 L554.6,219.2 Q556.5,217 558.3,217.3 L593.7,231.8 Q598.6,234.5 598.8,239.4 L598.8,268" stroke-width="1.62" fill="none" />
<path d="M490.2,181.6 Q498,178.5 505.5,180.8 L525.6,181.8 L540.8,187.9 L558.5,197.4 L563.5,200.5" stroke-width="2.0" fill="none" />
<path d="M540.8,187.9 L571.1,174" stroke-width="1.88" fill="none" />
<path d="M563.5,200.5 Q566,197 571.1,195.5 L591.3,187.9" stroke-width="2.0" fill="none" />
<path d="M495,190 Q497,186.5 501,186 L530,189.5" stroke-width="1.25" fill="none" />
<path d="M540.7,192.6 Q541,199 544.4,204 L550.8,209.7 L555.8,208.4 L559,203.4 L554.6,201.5 L550.8,205.3 L548.2,204 Q545,199 545.5,194.5" stroke-width="1.62" fill="none" />
<ellipse cx="546.3" cy="199.2" rx="1.1" ry="1.4" stroke-width="1.25" fill="#000" transform="rotate(0 546.3 199.2)"/>
<ellipse cx="552.5" cy="206" rx="1.4" ry="1.0" stroke-width="1.12" fill="none" transform="rotate(-35 552.5 206)"/>
<path d="M550.8,180 L539.4,191.4 Q533,195 528,201.5 L526.8,207.2" stroke-width="1.62" fill="none" />
<path d="M533,199 Q536,198.5 538,196.4" stroke-width="1.25" fill="none" />
<path d="M524.3,204 l2.8,4.5" stroke-width="1.75" fill="none" />
<path d="M497,194.5 q-3,3.5 -1.2,8.5 q2.6,-3.6 4.2,-7.5 z" stroke-width="1.38" fill="none" />
<path d="M530.7,167.7 L533.2,166.4 L548.3,162.6 L558,160.6 L564.8,162.6" stroke-width="2.0" fill="none" />
<path d="M531.9,175.3 L548.3,180.3 L552,182" stroke-width="1.25" fill="none" />
<path d="M533.5,170 L549,166 L564,165" stroke-width="1.25" fill="none" />
<path d="M536,172.5 L547,175.8 L560,170.5 L549,166" stroke-width="1.25" fill="none" />
<path d="M540,168.6 l5,-1.3 l2.4,4 l-5,1.6 z M551,166.5 l5,-1.2 l1.6,3 l-5,1.6 z" stroke-width="1.25" fill="none" />
<path d="M562.5,168.2 l9.5,4.6 l-2,2.2 l-9.5,-4.4 z" stroke-width="1.0" fill="#000" />
<path d="M548.3,162.6 L549,166 M558,160.6 L558.5,165" stroke-width="1.25" fill="none" />
<path d="M564.8,162.6 L574.9,157.6 L583.7,157.6 L591.3,163.9 L596.4,161.4 L601.4,162.6 L602.7,170.2 L604.5,172 L617.1,171.9 L622,176 L623.6,182.5" stroke-width="2.0" fill="none" />
<path d="M566,165.2 L589,174.5 L610,182.9 L622,190" stroke-width="2.0" fill="none" />
<path d="M571.1,174 L590,181.5 L609,190 L620,196" stroke-width="1.5" fill="none" />
<path d="M568,168.5 L588,177.5 L609.5,186.5 L621,193" stroke-width="1.25" fill="none" />
<path d="M574.9,157.6 L575.5,163.5 L583,166.8 L583.7,157.6 M575.5,163.5 L566,165.2" stroke-width="1.25" fill="none" />
<path d="M591.3,163.9 L592,170.5 L597,172.3 L596.4,161.4 M601.4,162.6 L601.4,174" stroke-width="1.25" fill="none" />
<path d="M583,166.8 L592,170.5 M597,172.3 L604,175.2 L604.5,172" stroke-width="1.25" fill="none" />
<path d="M604,175.2 L606,184.5 M617.1,171.9 L617.5,190.5 M610,174.8 L611,186.5" stroke-width="1.25" fill="none" />
<path d="M578,160.5 L581,162.5 L581,166" stroke-width="1.25" fill="none" />
<path d="M623.5,181 Q631,178.5 636,185.5 Q639,190 639.5,195 L636,196.5 L630.5,194 L626,190 Z" stroke-width="1.25" fill="#000" />
<path d="M636,196.5 L641,200.5 L643,205" stroke-width="1.75" fill="none" />
<path d="M622,190 L627.5,197 L633,201" stroke-width="1.25" fill="none" />
<path d="M563.5,200.5 L626,223.1 L643.9,214.1 L591.3,187.9" stroke-width="2.0" fill="none" />
<path d="M566,204.2 L626,226.3 L646,216.5" stroke-width="1.25" fill="none" />
<path d="M571.1,174 L577,183.5 L591.3,187.9" stroke-width="1.25" fill="none" />
<path d="M571,199.3 L590.5,191.6 L637.5,214 L625.8,219.8 Z" stroke-width="1.25" fill="none" />
<g transform="translate(603.5 208.4) rotate(20.5)">
<rect x="-17.5" y="-4.6" width="35" height="9.2" rx="4.6" fill="#fff" stroke-width="1.7"/>
<rect x="-12" y="-2.1" width="26" height="4.2" rx="2.1" fill="#fff" stroke-width="1.3"/>
</g>
<ellipse cx="627" cy="218.8" rx="1.2" ry="0.8" stroke-width="1.12" fill="#000" transform="rotate(0 627 218.8)"/>
<path d="M645,198.5 L652.2,197.2 L664.4,212.8 L664.4,225.3 L655.9,228.9 L655.9,216.8 Z" stroke-width="2.0" fill="none" />
<path d="M655.9,216.8 L664.4,212.8" stroke-width="1.25" fill="none" />
<path d="M645,198.5 L655.9,216.8" stroke-width="1.25" fill="none" />
<rect x="656.6" y="218.4" width="3.6" height="4.4" fill="none" stroke-width="1.1" transform="rotate(-15 658.4 220.6)"/>
<path d="M641,201 L652,216.5 M638,203.5 L648.5,218" stroke-width="1.25" fill="none" />
<line x1="644.5" y1="214" x2="644.5" y2="306" stroke-width="1.75" />
<line x1="646.5" y1="216" x2="646.5" y2="300" stroke-width="1.25" />
<line x1="650.5" y1="215" x2="650.5" y2="308" stroke-width="2.75" />
<line x1="654.5" y1="229" x2="654.5" y2="308" stroke-width="1.5" />
<line x1="657.5" y1="229" x2="657.5" y2="300" stroke-width="1.25" />
<path d="M646.8,222 l3.6,0 M646.8,228 l3.6,0 M646.8,240 l3.6,0 M646.8,247 l3.6,0 M646.8,262 l3.6,0" stroke-width="1.25" fill="none" />
<path d="M651,222 q2,1 2,4 l0,10 q0,3 -2,4" stroke-width="1.75" fill="none" />
<path d="M664.4,226.3 L669.3,227.5 L679,223.4 Q684.5,223.5 684.8,229.5 Q684.5,234 680,236.5 L679,242.3 L673.5,247" stroke-width="2.0" fill="none" />
<path d="M669.3,227.5 Q667,231 669,236.5 L680,236.5" stroke-width="1.25" fill="none" />
<ellipse cx="682" cy="229.5" rx="2.6" ry="4.2" stroke-width="1.25" fill="none" transform="rotate(15 682 229.5)"/>
<ellipse cx="669" cy="246.4" rx="4.6" ry="5.2" stroke-width="2.25" fill="#fff" transform="rotate(-15 669 246.4)"/>
<ellipse cx="669" cy="246.4" rx="2.0" ry="2.5" stroke-width="1.38" fill="none" transform="rotate(-15 669 246.4)"/>
<path d="M658,231 L664,233 L664.5,241 M658,238 L663,240.5 L664,250" stroke-width="1.38" fill="none" />
<path d="M660,243 l3,2 l-0.5,6 l-3,-1.5 z" stroke-width="1.12" fill="#000" />
<path d="M657,237.5 L631,249.2 L661,255.2" stroke-width="1.25" fill="none" />
<rect x="665.6" y="255.5" width="3.6" height="13.5" rx="1.8" fill="none" stroke-width="1.1" transform="rotate(-4 667.4 262)"/>
<path d="M673.5,250 Q671.5,253 671.5,258 L670.8,268 Q669,272.5 665.5,274 Q661.5,279 661.5,284 Q665,288 667.4,291.7 Q671,296 672.3,299.8 Q674.5,306 674.8,312 L675.6,322 Q676.5,328 680,331" stroke-width="2.0" fill="none" />
<path d="M657.8,254 L657.8,300 M660.4,256 L660.4,284" stroke-width="1.25" fill="none" />
<path d="M604.9,278.2 L643.1,260.2 M609,293.3 L635,282" stroke-width="2.0" fill="none" />
<path d="M607,281.5 L642,265.2 M611.5,289.5 L638,277.8" stroke-width="1.25" fill="none" />
<path d="M613,283.5 L641,270.5" stroke-width="1.25" fill="none" />
<ellipse cx="606.5" cy="286" rx="4.6" ry="7" stroke-width="1.62" fill="#fff" transform="rotate(18 606.5 286)"/>
<ellipse cx="606.9" cy="286.6" rx="2.6" ry="4.3" stroke-width="1.25" fill="none" transform="rotate(18 606.9 286.6)"/>
<ellipse cx="607.3" cy="287.4" rx="1.0" ry="1.5" stroke-width="1.12" fill="#000" transform="rotate(18 607.3 287.4)"/>
<path d="M600,279 Q597.5,285 599.5,292 Q601,296.5 605,297.5" stroke-width="1.62" fill="none" />
<ellipse cx="641.5" cy="263" rx="2.6" ry="3.6" stroke-width="1.75" fill="#fff" transform="rotate(0 641.5 263)"/>
<path d="M633,282.5 Q631.5,286 633,290 L639,291.5 L640.5,285 Z" stroke-width="1.25" fill="#000" />
<ellipse cx="652.8" cy="290.9" rx="3.4" ry="4" stroke-width="1.88" fill="#fff" transform="rotate(0 652.8 290.9)"/>
<ellipse cx="652.8" cy="290.9" rx="1.4" ry="1.8" stroke-width="1.12" fill="none" transform="rotate(0 652.8 290.9)"/>
<path d="M636,268 L640.5,277 L647,283 M639,266.5 L644,276" stroke-width="1.25" fill="none" />
<path d="M628.5,275.5 l4.5,9" stroke-width="1.62" fill="none" />
<path d="M602.5,308 L631.7,298.2 M599,303 L628,293" stroke-width="1.25" fill="none" />
<path d="M631.7,298.2 Q636,299 638,303 L643.5,312" stroke-width="1.38" fill="none" />
<path d="M611,296 Q610,301 605,303.5 L600,304.5" stroke-width="1.25" fill="none" />
<path d="M640.5,292 L644,302 L650,307" stroke-width="1.25" fill="none" />
<path d="M575.2,330 L575.2,274 Q575.5,269.5 579.7,269 Q584,269 585,273 L586,279 L586,328" stroke-width="1.38" fill="none" />
<path d="M580.6,272 L580.6,331" stroke-width="1.25" fill="none" />
<path d="M589.6,282 L589.6,327" stroke-width="1.25" fill="none" />
<circle cx="578" cy="275" r="0.55" fill="#000" stroke="none"/>
<circle cx="583.4" cy="277.5" r="0.55" fill="#000" stroke="none"/>
<circle cx="578" cy="280" r="0.55" fill="#000" stroke="none"/>
<circle cx="583.4" cy="282.5" r="0.55" fill="#000" stroke="none"/>
<circle cx="578" cy="285" r="0.55" fill="#000" stroke="none"/>
<circle cx="583.4" cy="287.5" r="0.55" fill="#000" stroke="none"/>
<circle cx="578" cy="290" r="0.55" fill="#000" stroke="none"/>
<circle cx="583.4" cy="292.5" r="0.55" fill="#000" stroke="none"/>
<circle cx="578" cy="295" r="0.55" fill="#000" stroke="none"/>
<circle cx="583.4" cy="297.5" r="0.55" fill="#000" stroke="none"/>
<circle cx="578" cy="300" r="0.55" fill="#000" stroke="none"/>
<circle cx="583.4" cy="302.5" r="0.55" fill="#000" stroke="none"/>
<circle cx="578" cy="305" r="0.55" fill="#000" stroke="none"/>
<circle cx="583.4" cy="307.5" r="0.55" fill="#000" stroke="none"/>
<circle cx="578" cy="310" r="0.55" fill="#000" stroke="none"/>
<circle cx="583.4" cy="312.5" r="0.55" fill="#000" stroke="none"/>
<circle cx="578" cy="315" r="0.55" fill="#000" stroke="none"/>
<circle cx="583.4" cy="317.5" r="0.55" fill="#000" stroke="none"/>
<circle cx="578" cy="320" r="0.55" fill="#000" stroke="none"/>
<circle cx="583.4" cy="322.5" r="0.55" fill="#000" stroke="none"/>
<circle cx="578" cy="325" r="0.55" fill="#000" stroke="none"/>
<circle cx="583.4" cy="327.5" r="0.55" fill="#000" stroke="none"/>
<path d="M586.8,331.7 Q584,337 579,339.5 L564.4,349.5" stroke-width="2.5" fill="none" />
<path d="M590,334 Q587,340 582,343 L566,353.5" stroke-width="1.75" fill="none" />
<path d="M592.5,337.5 L570,352" stroke-width="1.5" fill="none" />
<path d="M556,352.5 L580,337.5" stroke-width="2.0" fill="none" />
<polyline points="507.6,334.4 510.9,345.7 520.6,352.3 533.6,348.4 530,343" stroke-width="2.0" fill="none" />
<polyline points="512,333.5 522,341 530,343" stroke-width="1.25" fill="none" />
<ellipse cx="514.9" cy="344.1" rx="1.2" ry="1.6" stroke-width="1.25" fill="none" transform="rotate(0 514.9 344.1)"/>
<polyline points="546.6,352.8 546.6,356.3 556.3,359.2 556.3,353" stroke-width="2.0" fill="none" />
<ellipse cx="549.8" cy="356.3" rx="1.1" ry="1.3" stroke-width="1.12" fill="none" transform="rotate(0 549.8 356.3)"/>
<polyline points="561.2,357.5 561.2,366.5 571,375.5 577.2,371.7 577.2,355.5" stroke-width="2.0" fill="none" />
<polyline points="566,356 566,366 572,371" stroke-width="1.25" fill="none" />
<ellipse cx="570.3" cy="370.8" rx="1.3" ry="1.6" stroke-width="1.25" fill="none" transform="rotate(0 570.3 370.8)"/>
<path d="M556.3,356 L561.2,357.5" stroke-width="1.25" fill="none" />
<path d="M590.8,326.8 L626.5,317.8 M600.7,319.8 L624.5,311.9 M590.8,326.8 Q589,322 594,320.5 L600.7,319.8" stroke-width="2.0" fill="none" />
<path d="M600.7,309.9 L630.5,299.9 L654.3,313.8" stroke-width="2.0" fill="none" />
<path d="M603,314.5 L629,305.5 L650,317" stroke-width="1.25" fill="none" />
<path d="M624.5,311.9 Q630,312 633,317 Q638,322 638.8,328" stroke-width="1.38" fill="none" />
<ellipse cx="633.5" cy="330.7" rx="4.2" ry="4.8" stroke-width="2.12" fill="#fff" transform="rotate(0 633.5 330.7)"/>
<ellipse cx="633.5" cy="330.7" rx="1.8" ry="2.2" stroke-width="1.25" fill="none" transform="rotate(0 633.5 330.7)"/>
<path d="M626.5,317.8 Q627.5,324 629.5,328" stroke-width="1.25" fill="none" />
<path d="M593.7,339.7 L593.7,377.4" stroke-width="2.5" fill="none" />
<path d="M594.7,339.7 L612.6,334.7 L612.6,377.4" stroke-width="2.0" fill="none" />
<line x1="612.5" y1="336" x2="612.5" y2="352" stroke-width="2.75" />
<ellipse cx="600.5" cy="343.6" rx="1.8" ry="2.2" stroke-width="1.5" fill="#000" transform="rotate(0 600.5 343.6)"/>
<path d="M621.6,341.8 L646.4,338.7" stroke-width="1.12" fill="none" stroke="#666"/>
<line x1="636.5" y1="343.6" x2="636.5" y2="377.4" stroke-width="1.25" />
<path d="M644.9,342.7 L645.4,363.5" stroke-width="2.75" fill="none" />
<ellipse cx="651.8" cy="349.2" rx="1.2" ry="1.5" stroke-width="1.25" fill="#000" transform="rotate(0 651.8 349.2)"/>
<path d="M599.7,353.6 L610.6,349.6 L623.5,356.6 L623.5,373.5 L612.6,378.4 L599.7,373.5 Z" stroke-width="1.62" fill="#fff" />
<path d="M599.7,353.6 L612.6,360.5 L623.5,356.6 M612.6,360.5 L612.6,378.4" stroke-width="1.38" fill="none" />
<path d="M602.5,358.6 L610.3,362.6 L610.3,374 L602.5,370.8 Z" stroke-width="1.25" fill="none" />
<path d="M602.5,364.3 L610.3,368" stroke-width="1.25" fill="none" />
<path d="M605.5,368.5 l2.5,1.2 l0,3 l-2.5,-1 z" stroke-width="1.0" fill="#000" />
<path d="M648.4,334.9 L660,332.7 M648.4,343.9 L666.3,342.7 L678.2,341.7 Q683,339.5 682.4,334.5 Q681,328.5 675,326.3 Q669,324.5 664,326.5" stroke-width="2.0" fill="none" />
<ellipse cx="648.6" cy="339.4" rx="2.2" ry="4.5" stroke-width="1.38" fill="#fff" transform="rotate(0 648.6 339.4)"/>
<path d="M662,336.5 Q670,337.5 675.5,333.5" stroke-width="1.25" fill="none" />
<ellipse cx="657.4" cy="325.6" rx="3.2" ry="4.0" stroke-width="3.5" fill="#fff" transform="rotate(-10 657.4 325.6)"/>
<ellipse cx="664.4" cy="324.6" rx="3.0" ry="3.8" stroke-width="3.0" fill="#fff" transform="rotate(-10 664.4 324.6)"/>
<path d="M655.5,330 L656.8,340 M660.5,329.5 L661.5,343" stroke-width="2.0" fill="none" />
<path d="M657,343.5 l4.5,-0.5 l1,6.5 l-4.5,0.5 z" stroke-width="1.25" fill="#000" />
<path d="M654.3,313.8 L656,320 M650,317 L652.5,322" stroke-width="1.25" fill="none" />
<path d="M680,331 Q682.5,335 682.6,339.2 L683.2,355.6 Q686,360.5 690.7,363.6 Q693.2,366.5 691.5,370 Q689,373.5 684,373.3 L676,372.5 L666.3,369.5" stroke-width="1.75" fill="none" />
<ellipse cx="682" cy="367" rx="3.6" ry="4.0" stroke-width="2.0" fill="#fff" transform="rotate(0 682 367)"/>
<ellipse cx="682" cy="367" rx="1.5" ry="1.8" stroke-width="1.25" fill="none" transform="rotate(0 682 367)"/>
<path d="M672.2,355.6 L683,362 M664,352 L676.5,371.5 M667,350 L672.2,355.6" stroke-width="1.25" fill="none" />
<path d="M660,345 L665.5,369" stroke-width="1.38" fill="none" />
<path d="M577.2,371.7 L594.7,379.4 L612.6,383.4 L626.5,387.4 L638.5,389.3 L658.3,386.4 L666.3,381.4 L666.3,369.5" stroke-width="1.62" fill="none" />
<path d="M623.5,376.5 L636.5,380.5 L657,377 L665.5,371" stroke-width="1.25" fill="none" />
<path d="M628,383.3 l10,2.4 l0,3.6 l-10,-2.2 z" stroke-width="1.0" fill="#000" />
<path d="M649,383 l11,-2.2 l0.6,4 l-11,2.4 z" stroke-width="1.0" fill="#000" />
<path d="M597,378.8 l7,2.2 l0,2.3 l-7,-2.3 z" stroke-width="1.0" fill="#000" />
<path d="M575.4,330 L575.4,274 Q575.6,269.3 579.7,268.8 Q584.2,268.8 585.4,273 L586.2,279 L586.2,328" stroke-width="1.88" fill="none" />
<path d="M591.5,271 L591.5,327" stroke-width="2.75" fill="none" />
<path d="M595.5,272 L595.5,322" stroke-width="1.5" fill="none" />
<path d="M586,272 L591.5,271 L596,273.5 L598,279" stroke-width="1.5" fill="none" />
<path d="M586.5,274 l5,-1 l3,6 l-5,2.5 z" stroke-width="1.0" fill="#000" />
<path d="M588.5,329.5 Q586,335.5 581,338.5 L563,350.5" stroke-width="2.0" fill="none" />
<path d="M593.5,333.5 Q590,341 584,344.5 L568,354.5" stroke-width="1.88" fill="none" />
<path d="M560,352.5 L583,338" stroke-width="3.0" fill="none" />
<path d="M594.8,340 L594.8,377" stroke-width="4.0" fill="none" />
<path d="M597.5,333 L597.5,340 M593,333.5 L593,340" stroke-width="2.0" fill="none" />
<path d="M613,334.8 L613,377" stroke-width="3.0" fill="none" />
<path d="M644.9,342 L645.4,366" stroke-width="3.75" fill="none" />
<path d="M600.7,319.8 L600.7,326.8 M626.5,317.8 L628,323" stroke-width="1.5" fill="none" />
<path d="M598,312 L598,324 M602.5,308 L602.5,319" stroke-width="1.5" fill="none" />
<path d="M643.5,312 Q647,318 652.5,320.5" stroke-width="1.5" fill="none" />
<path d="M638.8,328 L650,326 M640,334.5 L648.4,334.9" stroke-width="1.5" fill="none" />
<path d="M604.9,278.2 L643.1,260.2" stroke-width="2.5" fill="none" />
<path d="M609,293.3 L635,282" stroke-width="2.25" fill="none" />
<path d="M616,280 L640,268.8" stroke-width="2.75" fill="none" />
<path d="M600,279 Q597.5,285 599.5,292 Q601,296.5 605,297.5" stroke-width="2.5" fill="none" />
<ellipse cx="606.5" cy="286" rx="4.6" ry="7" stroke-width="2.25" fill="none" transform="rotate(18 606.5 286)"/>
<path d="M631.7,283.6 L641.5,283.6 L641.5,293.3 L631.7,292 Z" stroke-width="1.0" fill="#000" />
<path d="M636.5,285.5 l3,0.4 l0,4.5 l-3,-0.4 z" stroke-width="0.62" fill="#fff" stroke="none"/>
<path d="M630,295 Q640,296 646,302 L657.7,311.2" stroke-width="1.75" fill="none" />
<path d="M626,298.5 Q637,300 643,306 L651,313" stroke-width="1.38" fill="none" />
<path d="M643,258 Q647,262 646.5,267 Q645,271 641,272" stroke-width="1.75" fill="none" />
<path d="M646.5,270 L650,283 M650.4,283 L657.8,286" stroke-width="1.5" fill="none" />
<line x1="644.5" y1="214" x2="644.5" y2="306" stroke-width="2.38" />
<line x1="650.5" y1="215" x2="650.5" y2="310" stroke-width="3.5" />
<line x1="654.5" y1="229" x2="654.5" y2="310" stroke-width="2.0" />
<path d="M652,255 l0,22 M648.6,268 l0,24" stroke-width="1.75" fill="none" />
<path d="M659.2,330 L660.6,355 M664.4,329 L665.8,356" stroke-width="2.5" fill="none" />
<path d="M672.2,355.6 L690.7,363.6" stroke-width="1.62" fill="none" />
<path d="M666.3,369.5 L676,360 M669.5,372 L678.5,363.5" stroke-width="1.38" fill="none" />
<path d="M683.2,343 L676.5,346 L676.5,358" stroke-width="1.38" fill="none" />
<path d="M628,383 l11,2.6 l0,4.6 l-11,-2.4 z" stroke-width="1.0" fill="#000" />
<path d="M648,383.2 l13,-2.6 l0.8,4.6 l-13,2.8 z" stroke-width="1.0" fill="#000" />
<path d="M615,380.5 l6,1.6 l0,3 l-6,-1.6 z" stroke-width="1.0" fill="#000" />
<path d="M577.2,371.7 L594.7,379.4 L612.6,383.4 L626.5,387.4 L638.5,389.3 L658.3,386.4 L666.3,381.4" stroke-width="2.25" fill="none" />
<path d="M599.7,353.6 L610.6,349.6 L623.5,356.6 L623.5,373.5 L612.6,378.4 L599.7,373.5 Z" stroke-width="2.25" fill="none" />
<path d="M602.5,358.6 L610.3,362.6 L610.3,374 L602.5,370.8 Z" stroke-width="1.75" fill="none" />
<path d="M556,354.5 L561.2,357.5 L561.2,366.5" stroke-width="2.0" fill="none" />
<path d="M577.2,355.5 L590,349 M577.2,371.7 L590,366" stroke-width="1.5" fill="none" />
<path d="M577.2,355.5 L577.2,371.7" stroke-width="2.5" fill="none" />
<path d="M591.8,325.8 L625.5,317.8 M597.7,332.7 L622.5,327.7" stroke-width="2.0" fill="none" />
<path d="M591.8,325.8 Q589.5,330 593,333 L597.7,332.7" stroke-width="1.75" fill="none" />
<ellipse cx="593.5" cy="329" rx="1.4" ry="1.6" stroke-width="1.25" fill="none" transform="rotate(0 593.5 329)"/>
<ellipse cx="599.7" cy="343.6" rx="2.0" ry="2.3" stroke-width="1.75" fill="#000" transform="rotate(0 599.7 343.6)"/>
<ellipse cx="657.4" cy="325.6" rx="3.2" ry="4.0" stroke-width="3.5" fill="#fff" transform="rotate(-10 657.4 325.6)"/>
<ellipse cx="664.4" cy="324.6" rx="3.0" ry="3.8" stroke-width="3.0" fill="#fff" transform="rotate(-10 664.4 324.6)"/>
<line x1="581.5" y1="128" x2="581.5" y2="197.5" stroke-width="1.25" />
<ellipse cx="581" cy="198" rx="0.9" ry="0.7" stroke-width="1.0" fill="#000" transform="rotate(0 581 198)"/>
<line x1="627.5" y1="120.5" x2="627.5" y2="218.5" stroke-width="1.88" />
<line x1="627.5" y1="96" x2="627.5" y2="102" stroke-width="1.88" />
<polyline points="564.3,292.5 564.3,473.9 539.2,484.9" stroke-width="1.25" fill="none" />
<line x1="564.3" y1="420" x2="643.6" y2="386.5" stroke-width="1.25" />
<line x1="494.6" y1="336" x2="562.3" y2="307.1" stroke-width="1.25" />
<line x1="568.8" y1="304.7" x2="580" y2="300.2" stroke-width="1.25" />
<polyline points="768.8,487.2 620,342.5" stroke-width="1.25" fill="none" />
<polyline points="631,249.2 816.5,286.7" stroke-width="1.25" fill="none" />
<polyline points="829.5,289.3 1039.6,331.1" stroke-width="1.25" fill="none" />
<polyline points="563.9,292.5 580.5,286.5" stroke-width="1.25" fill="none" />
<line x1="581.5" y1="64" x2="581.5" y2="89.5" stroke-width="1.25" />
<line x1="627.5" y1="68.7" x2="627.5" y2="91.5" stroke-width="1.88" />
<circle cx="529.2" cy="320.4" r="0.5" fill="#000" stroke="none"/>
<circle cx="539.0" cy="315.8" r="0.5" fill="#000" stroke="none"/>
<circle cx="524.2" cy="324.4" r="0.5" fill="#000" stroke="none"/>
<circle cx="519.0" cy="324.2" r="0.5" fill="#000" stroke="none"/>
<circle cx="543.5" cy="314.2" r="0.5" fill="#000" stroke="none"/>
<circle cx="533.4" cy="318.7" r="0.5" fill="#000" stroke="none"/>
<circle cx="520.9" cy="323.7" r="0.5" fill="#000" stroke="none"/>
<circle cx="540.4" cy="315.5" r="0.5" fill="#000" stroke="none"/>
<circle cx="543.6" cy="314.1" r="0.5" fill="#000" stroke="none"/>
<circle cx="542.9" cy="317.2" r="0.5" fill="#000" stroke="none"/>
<circle cx="536.5" cy="319.8" r="0.5" fill="#000" stroke="none"/>
<circle cx="551.0" cy="311.4" r="0.5" fill="#000" stroke="none"/>
<circle cx="422.2" cy="265.7" r="0.5" fill="#000" stroke="none"/>
<circle cx="422.4" cy="263.2" r="0.5" fill="#000" stroke="none"/>
<circle cx="417.4" cy="267.4" r="0.5" fill="#000" stroke="none"/>
<circle cx="444.2" cy="256.2" r="0.5" fill="#000" stroke="none"/>
<circle cx="423.9" cy="264.5" r="0.5" fill="#000" stroke="none"/>
<circle cx="414.9" cy="266.2" r="0.5" fill="#000" stroke="none"/>
<circle cx="436.0" cy="259.8" r="0.5" fill="#000" stroke="none"/>
<circle cx="425.3" cy="261.5" r="0.5" fill="#000" stroke="none"/>
<circle cx="424.2" cy="264.5" r="0.5" fill="#000" stroke="none"/>
<circle cx="420.1" cy="447.2" r="0.5" fill="#000" stroke="none"/>
<circle cx="425.3" cy="447.2" r="0.5" fill="#000" stroke="none"/>
<circle cx="414.0" cy="449.4" r="0.5" fill="#000" stroke="none"/>
<circle cx="404.8" cy="449.3" r="0.5" fill="#000" stroke="none"/>
<circle cx="407.9" cy="447.2" r="0.5" fill="#000" stroke="none"/>
<circle cx="403.1" cy="449.3" r="0.5" fill="#000" stroke="none"/>
<circle cx="401.6" cy="447.2" r="0.5" fill="#000" stroke="none"/>
<circle cx="478.9" cy="447.1" r="0.5" fill="#000" stroke="none"/>
<circle cx="493.1" cy="447.2" r="0.5" fill="#000" stroke="none"/>
<circle cx="528.0" cy="449.2" r="0.5" fill="#000" stroke="none"/>
<circle cx="481.2" cy="449.1" r="0.5" fill="#000" stroke="none"/>
<circle cx="449.2" cy="447.3" r="0.5" fill="#000" stroke="none"/>
<circle cx="500.8" cy="447.1" r="0.5" fill="#000" stroke="none"/>
<circle cx="535.2" cy="447.0" r="0.5" fill="#000" stroke="none"/>
<circle cx="502.1" cy="449.4" r="0.5" fill="#000" stroke="none"/>
<circle cx="501.4" cy="447.0" r="0.5" fill="#000" stroke="none"/>
<circle cx="539.3" cy="449.2" r="0.5" fill="#000" stroke="none"/>
<circle cx="457.3" cy="449.2" r="0.5" fill="#000" stroke="none"/>
<circle cx="510.1" cy="447.0" r="0.5" fill="#000" stroke="none"/>
<circle cx="493.8" cy="447.1" r="0.5" fill="#000" stroke="none"/>
<circle cx="472.1" cy="447.1" r="0.5" fill="#000" stroke="none"/>
<circle cx="468.2" cy="447.2" r="0.5" fill="#000" stroke="none"/>
<circle cx="464.7" cy="449.3" r="0.5" fill="#000" stroke="none"/>
<circle cx="614.0" cy="447.1" r="0.5" fill="#000" stroke="none"/>
<circle cx="633.2" cy="447.2" r="0.5" fill="#000" stroke="none"/>
<circle cx="602.6" cy="447.1" r="0.5" fill="#000" stroke="none"/>
<circle cx="600.0" cy="449.2" r="0.5" fill="#000" stroke="none"/>
<circle cx="644.7" cy="449.1" r="0.5" fill="#000" stroke="none"/>
<circle cx="565.6" cy="449.2" r="0.5" fill="#000" stroke="none"/>
<circle cx="615.1" cy="447.2" r="0.5" fill="#000" stroke="none"/>
<circle cx="617.7" cy="447.0" r="0.5" fill="#000" stroke="none"/>
<circle cx="567.1" cy="447.2" r="0.5" fill="#000" stroke="none"/>
<circle cx="573.1" cy="449.1" r="0.5" fill="#000" stroke="none"/>
<circle cx="645.2" cy="449.2" r="0.5" fill="#000" stroke="none"/>
<circle cx="645.3" cy="447.0" r="0.5" fill="#000" stroke="none"/>
<circle cx="558.7" cy="449.3" r="0.5" fill="#000" stroke="none"/>
<circle cx="570.1" cy="449.3" r="0.5" fill="#000" stroke="none"/>
<circle cx="564.4" cy="436.0" r="0.5" fill="#000" stroke="none"/>
<circle cx="564.6" cy="460.1" r="0.5" fill="#000" stroke="none"/>
<circle cx="564.2" cy="467.3" r="0.5" fill="#000" stroke="none"/>
<circle cx="564.0" cy="430.4" r="0.5" fill="#000" stroke="none"/>
<circle cx="564.1" cy="460.4" r="0.5" fill="#000" stroke="none"/>
<circle cx="564.6" cy="422.4" r="0.5" fill="#000" stroke="none"/>
<circle cx="564.3" cy="461.0" r="0.5" fill="#000" stroke="none"/>
<circle cx="453.0" cy="353.7" r="0.5" fill="#000" stroke="none"/>
<circle cx="456.2" cy="350.3" r="0.5" fill="#000" stroke="none"/>
<circle cx="452.6" cy="351.7" r="0.5" fill="#000" stroke="none"/>
<circle cx="453.5" cy="350.8" r="0.5" fill="#000" stroke="none"/>
<circle cx="441.1" cy="355.9" r="0.5" fill="#000" stroke="none"/>
<circle cx="327.1" cy="453.8" r="0.5" fill="#000" stroke="none"/>
<circle cx="327.5" cy="456.7" r="0.5" fill="#000" stroke="none"/>
<circle cx="326.8" cy="455.0" r="0.5" fill="#000" stroke="none"/>
<circle cx="326.0" cy="449.3" r="0.5" fill="#000" stroke="none"/>
<circle cx="328.2" cy="467.8" r="0.5" fill="#000" stroke="none"/>
<circle cx="325.4" cy="442.0" r="0.5" fill="#000" stroke="none"/>
<circle cx="518.2" cy="344.8" r="0.5" fill="#000" stroke="none"/>
<circle cx="530.8" cy="351.4" r="0.5" fill="#000" stroke="none"/>
<circle cx="531.4" cy="348.3" r="0.5" fill="#000" stroke="none"/>
<circle cx="510.0" cy="335.3" r="0.5" fill="#000" stroke="none"/>
<circle cx="529.1" cy="351.5" r="0.5" fill="#000" stroke="none"/>
<circle cx="517.8" cy="343.8" r="0.5" fill="#000" stroke="none"/>
<circle cx="525.9" cy="349.0" r="0.5" fill="#000" stroke="none"/>
<circle cx="507.3" cy="337.9" r="0.5" fill="#000" stroke="none"/>
</svg>
</body></html>
